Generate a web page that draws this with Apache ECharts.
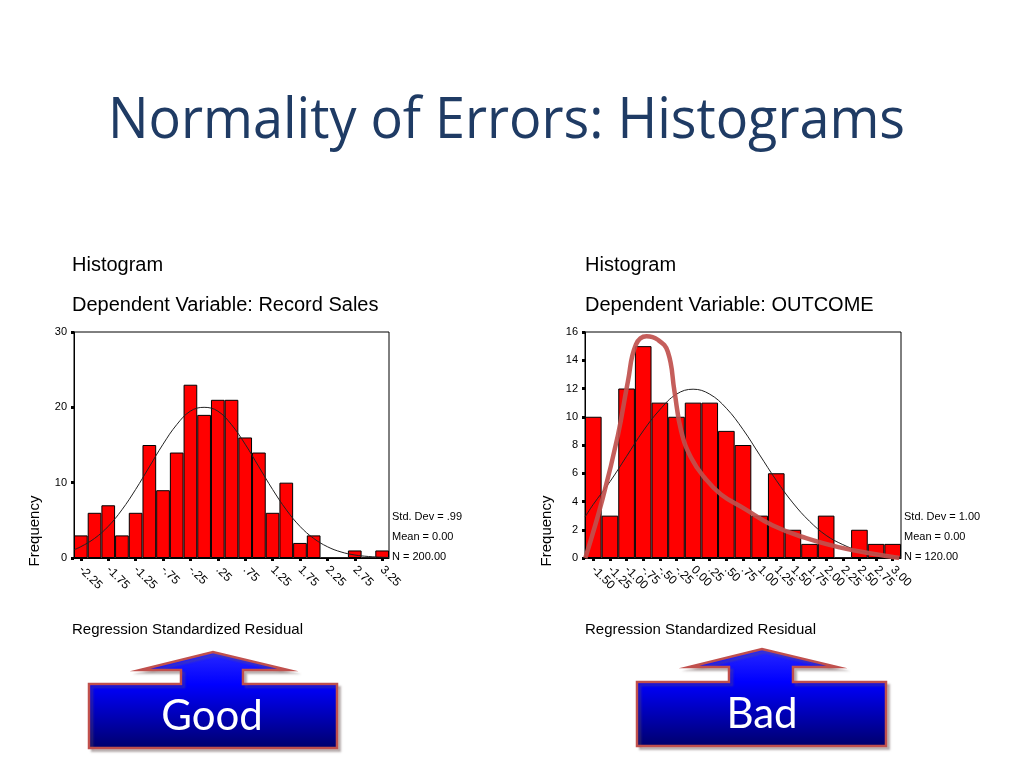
<!DOCTYPE html>
<html><head><meta charset="utf-8">
<script src="https://cdn.jsdelivr.net/npm/echarts@6/dist/echarts.min.js"></script>
<style>html,body{margin:0;padding:0;background:#fff;}#c{width:1024px;height:768px;}</style>
</head><body><div id="c"></div>
<script>
// ---------- data ----------
const leftCategories = ['-2.25','-2.00','-1.75','-1.50','-1.25','-1.00','-.75','-.50','-.25','0.00','.25','.50','.75','1.00','1.25','1.50','1.75','2.00','2.25','2.50','2.75','3.00','3.25'];
const leftFreq = [3,6,7,3,6,15,9,14,23,19,21,21,16,14,6,10,2,3,0,0,1,0,1];
const leftNormalX = [-2.375,-2.25,-2.0,-1.75,-1.5,-1.25,-1.0,-0.75,-0.5,-0.25,0,0.25,0.5,0.75,1.0,1.25,1.5,1.75,2.0,2.25,2.5,2.75,3.0,3.25,3.375];
const leftNormalY = [1.1,1.5,2.6,4.2,6.4,9.1,12.1,15.1,17.7,19.5,20.0,19.5,17.7,15.1,12.1,9.1,6.4,4.2,2.6,1.5,0.8,0.4,0.2,0.1,0.06];
const leftStats = ['Std. Dev = .99','Mean = 0.00','N = 200.00'];

const rightCategories = ['-1.50','-1.25','-1.00','-.75','-.50','-.25','0.00','.25','.50','.75','1.00','1.25','1.50','1.75','2.00','2.25','2.50','2.75','3.00'];
const rightFreq = [10,3,12,15,11,10,11,11,9,8,3,6,2,1,3,0,2,1,1];
const rightNormalX = [-1.625,-1.5,-1.25,-1.0,-0.75,-0.5,-0.25,0,0.25,0.5,0.75,1.0,1.25,1.5,1.75,2.0,2.25,2.5,2.75,3.0,3.125];
const rightNormalY = [2.9,3.8,5.4,7.2,9.0,10.5,11.6,11.95,11.6,10.6,9.1,7.3,5.5,3.9,2.6,1.6,0.95,0.5,0.27,0.13,0.09];
const skewX = [-1.62,-1.36,-1.13,-0.98,-0.86,-0.7,-0.53,-0.38,-0.28,-0.18,-0.03,0.17,0.42,0.77,1.2,1.7,2.2,2.7,3.1];
const skewY = [0,4.2,8.7,12.5,15.1,15.7,15.45,14.6,11.8,9.0,7.1,5.7,4.5,3.5,2.3,1.4,0.75,0.3,0];
const rightStats = ['Std. Dev = 1.00','Mean = 0.00','N = 120.00'];

const slideTitle = 'Normality of Errors: Histograms';
const leftTitles = ['Histogram','Dependent Variable: Record Sales'];
const rightTitles = ['Histogram','Dependent Variable: OUTCOME'];
const yName = 'Frequency';
const xName = 'Regression Standardized Residual';
const buttonLabels = ['Good','Bad'];

// ---------- chart ----------
const chart = echarts.init(document.getElementById('c'), null, {renderer:'canvas'});
const SPSS = "'Liberation Sans', Arial, sans-serif";
const TITLE_FONT = "57px 'Open Sans'";
const zip = (xs, ys) => xs.map((x,i)=>[x, ys[i]]);

function catAxis(gi, cats, interval){
  return {type:'category', gridIndex:gi, data:cats, boundaryGap:true,
    axisLine:{show:true, lineStyle:{color:'#000', width:1}},
    axisTick:{show:true, alignWithLabel:true, interval:interval, length:3, lineStyle:{color:'#000', width:3}},
    axisLabel:{interval:interval, rotate:-45, fontFamily:SPSS, fontSize:12, color:'#000', margin:10},
    splitLine:{show:false}};
}
function valX(gi, min, max){
  return {type:'value', gridIndex:gi, min:min, max:max, show:false};
}
function valY(gi, max, interval){
  return {type:'value', gridIndex:gi, min:0, max:max, interval:interval,
    axisLine:{show:true, onZero:false, lineStyle:{color:'#000', width:1}},
    axisTick:{show:true, length:3, lineStyle:{color:'#000', width:3}},
    axisLabel:{fontFamily:SPSS, fontSize:11, color:'#000', margin:7},
    splitLine:{show:false}};
}

const txt = (x,y,text,opt) => ({type:'text', x:x, y:y, silent:true, style:Object.assign({text:text, fill:'#000', font:'15px '+SPSS, align:'left', verticalAlign:'middle'}, opt||{})});

// title scale to target width
const mctx = document.createElement('canvas').getContext('2d');
mctx.font = TITLE_FONT;
const titleW = mctx.measureText(slideTitle).width || 797;
const titleScale = 797 / titleW;

function button(pts, label, cx, cy){
  return [
    {type:'polygon', silent:true, shape:{points:pts},
      style:{fill:new echarts.graphic.LinearGradient(0,0,0,1,[{offset:0,color:'#2a2aff'},{offset:0.34,color:'#0000ff'},{offset:1,color:'#00006a'}]),
        stroke:'#c0504d', lineWidth:2.5, shadowBlur:2, shadowOffsetX:3, shadowOffsetY:3, shadowColor:'rgba(110,90,90,0.35)'}},
    {type:'text', x:cx, y:cy, silent:true, style:{text:label, fill:'#fff', font:'42px Lato', align:'center', verticalAlign:'middle'}}
  ];
}

const graphics = [
  {type:'text', x:506.5, y:122, scaleX:titleScale, silent:true, style:{text:slideTitle, fill:'#1f3b64', font:TITLE_FONT, align:'center', verticalAlign:'middle'}},
  txt(72, 265, leftTitles[0], {font:'20px '+SPSS}),
  txt(72, 305, leftTitles[1], {font:'20px '+SPSS}),
  txt(585, 265, rightTitles[0], {font:'20px '+SPSS}),
  txt(585, 305, rightTitles[1], {font:'20px '+SPSS}),
  Object.assign(txt(35, 531, yName, {align:'center'}), {rotation:Math.PI/2}),
  Object.assign(txt(547, 531, yName, {align:'center'}), {rotation:Math.PI/2}),
  txt(72, 630, xName),
  txt(585, 630, xName),
  txt(392, 517, leftStats[0], {font:'11px '+SPSS}),
  txt(392, 537, leftStats[1], {font:'11px '+SPSS}),
  txt(392, 557, leftStats[2], {font:'11px '+SPSS}),
  txt(904, 517, rightStats[0], {font:'11px '+SPSS}),
  txt(904, 537, rightStats[1], {font:'11px '+SPSS}),
  txt(904, 557, rightStats[2], {font:'11px '+SPSS})
].concat(
  button([[89,748],[89,684],[181,684],[181,670],[140,670],[213,652],[288,670],[243,670],[243,684],[337,684],[337,748]], buttonLabels[0], 212, 716),
  button([[637,746],[637,682],[729,682],[729,667],[689,667],[762,649],[837,667],[793,667],[793,682],[886,682],[886,746]], buttonLabels[1], 762, 714)
);

chart.setOption({
  animation:false,
  backgroundColor:'#fff',
  grid:[
    {left:74, top:332, width:315, height:226, show:true, borderColor:'#000', borderWidth:1, backgroundColor:'transparent'},
    {left:585, top:332, width:316, height:226, show:true, borderColor:'#000', borderWidth:1, backgroundColor:'transparent'}
  ],
  xAxis:[catAxis(0, leftCategories, 1), valX(0,-2.375,3.375), catAxis(1, rightCategories, 0), valX(1,-1.625,3.125)],
  yAxis:[valY(0,30,10), valY(1,16,2)],
  series:[
    {type:'bar', xAxisIndex:0, yAxisIndex:0, data:leftFreq, barCategoryGap:'0%', itemStyle:{color:'#ff0000', borderColor:'#000', borderWidth:1}, silent:true},
    {type:'line', xAxisIndex:1, yAxisIndex:0, data:zip(leftNormalX,leftNormalY), smooth:0.4, showSymbol:false, lineStyle:{color:'#222', width:1}, z:5, silent:true},
    {type:'bar', xAxisIndex:2, yAxisIndex:1, data:rightFreq, barCategoryGap:'0%', itemStyle:{color:'#ff0000', borderColor:'#000', borderWidth:1}, silent:true},
    {type:'line', xAxisIndex:3, yAxisIndex:1, data:zip(rightNormalX,rightNormalY), smooth:0.4, showSymbol:false, lineStyle:{color:'#222', width:1}, z:5, silent:true},
    {type:'line', xAxisIndex:3, yAxisIndex:1, data:zip(skewX,skewY), smooth:0.45, showSymbol:false, lineStyle:{color:'#c0504d', width:4.5, opacity:0.92}, z:6, silent:true}
  ],
  graphic:graphics
});
</script></body></html>
